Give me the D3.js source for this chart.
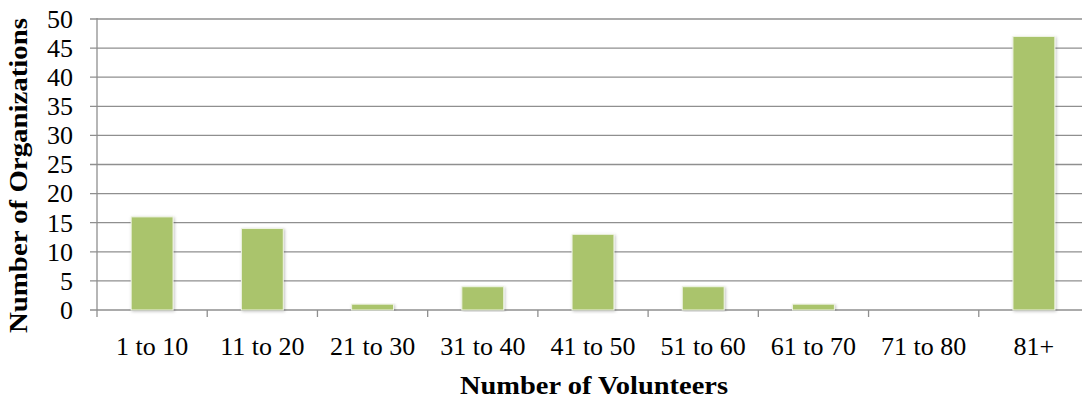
<!DOCTYPE html>
<html>
<head>
<meta charset="utf-8">
<script src="https://cdn.jsdelivr.net/npm/d3@7"></script>
<style>
  html, body { margin: 0; padding: 0; background: #fff; }
  svg { display: block; font-family: "Liberation Serif", "DejaVu Serif", serif; }
</style>
</head>
<body>
<div id="chart"></div>
<script>
// Data
var CATEGORIES = ['1 to 10', '11 to 20', '21 to 30', '31 to 40', '41 to 50',
                  '51 to 60', '61 to 70', '71 to 80', '81+'];
var COUNTS = [16, 14, 1, 4, 13, 4, 1, 0, 47];
var Y_TICKS = [0, 5, 10, 15, 20, 25, 30, 35, 40, 45, 50];
var X_TITLE = 'Number of Volunteers';
var Y_TITLE = 'Number of Organizations';

(function () {
    var W = 1082, H = 401;
    var left = 97, right = 1089, top = 19, bottom = 310;
    var GRID = '#8f8f8f', BAR = '#aac46c';

    var svg = d3.select('#chart').append('svg')
        .attr('width', W).attr('height', H);

    var defs = svg.append('defs');
    var f = defs.append('filter').attr('id', 'shadow')
        .attr('x', '-20%').attr('y', '-5%').attr('width', '140%').attr('height', '110%');
    f.append('feDropShadow').attr('dx', 1).attr('dy', 1).attr('stdDeviation', 1.5)
        .attr('flood-color', '#000').attr('flood-opacity', 0.25);

    var x = d3.scaleBand().domain(CATEGORIES).range([left, right])
        .paddingInner(0.62).paddingOuter(0.31);
    var y = d3.scaleLinear().domain([0, 50]).range([bottom, top]);

    // gridlines + y ticks
    svg.append('g').selectAll('line').data(Y_TICKS).enter().append('line')
        .attr('x1', left - 7).attr('x2', W)
        .attr('y1', function (d) { return y(d); }).attr('y2', function (d) { return y(d); })
        .attr('stroke', GRID).attr('stroke-width', 1.3);

    svg.append('g').selectAll('text').data(Y_TICKS).enter().append('text')
        .attr('x', 73).attr('y', function (d) { return y(d); })
        .attr('dy', '0.34em').attr('text-anchor', 'end')
        .attr('font-size', 26).attr('fill', '#000')
        .text(function (d) { return d; });

    // y axis line
    svg.append('line').attr('x1', left).attr('x2', left)
        .attr('y1', top - 1).attr('y2', bottom)
        .attr('stroke', GRID).attr('stroke-width', 1.3);

    // x axis ticks at category boundaries
    var step = x.step();
    var bounds = d3.range(CATEGORIES.length + 1).map(function (i) { return left + i * step; });
    svg.append('g').selectAll('line').data(bounds).enter().append('line')
        .attr('x1', function (d) { return d; }).attr('x2', function (d) { return d; })
        .attr('y1', bottom).attr('y2', bottom + 7)
        .attr('stroke', GRID).attr('stroke-width', 1.3);

    // bars
    svg.append('g').selectAll('rect').data(COUNTS).enter().append('rect')
        .attr('x', function (d, i) { return x(CATEGORIES[i]); })
        .attr('y', function (d) { return y(d); })
        .attr('width', x.bandwidth())
        .attr('height', function (d) { return bottom - y(d); })
        .attr('fill', BAR).attr('stroke', '#eef3e2').attr('stroke-width', 1)
        .attr('filter', function (d) { return d > 0 ? 'url(#shadow)' : null; });

    // x labels
    svg.append('g').selectAll('text').data(CATEGORIES).enter().append('text')
        .attr('x', function (d) { return x(d) + x.bandwidth() / 2; })
        .attr('y', 355).attr('text-anchor', 'middle')
        .attr('font-size', 26).attr('fill', '#000')
        .text(function (d) { return d; });

    // axis titles
    svg.append('text').attr('x', 594).attr('y', 394)
        .attr('text-anchor', 'middle').attr('font-size', 26).attr('font-weight', 'bold')
        .attr('textLength', 268).attr('lengthAdjust', 'spacingAndGlyphs')
        .text(X_TITLE);

    svg.append('text')
        .attr('transform', 'translate(27,' + 175.5 + ') rotate(-90)')
        .attr('text-anchor', 'middle').attr('font-size', 26).attr('font-weight', 'bold')
        .attr('textLength', 315).attr('lengthAdjust', 'spacingAndGlyphs')
        .text(Y_TITLE);
})();
</script>
</body>
</html>
